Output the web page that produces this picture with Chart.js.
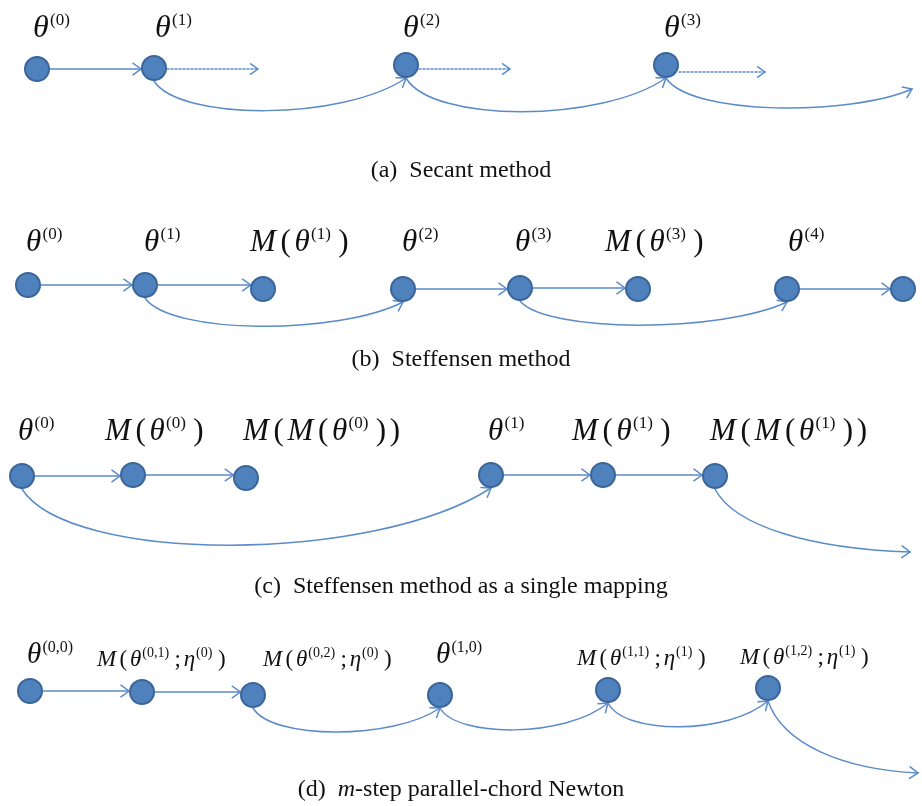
<!DOCTYPE html>
<html>
<head>
<meta charset="utf-8">
<script src="https://cdn.jsdelivr.net/npm/chart.js@4.4.1/dist/chart.umd.min.js"></script>
<style>
  html, body { margin: 0; padding: 0; background: #ffffff; }
  canvas { display: block; }
</style>
</head>
<body>
<canvas id="diagram" width="922" height="806"></canvas>
<script>
// ---- (a) Secant method ----
const secantX = [37, 154, 406, 666];
const secantY = [69, 68, 65, 65];
const secantLabels = ['θ^{(0)}', 'θ^{(1)}', 'θ^{(2)}', 'θ^{(3)}'];
const secantLabelX = [33, 155, 403, 664];
const secantLabelY = [37, 37, 37, 37];
const secantSolid = [[0, 1]];
const secantDotted = [[1, 258, 69], [2, 510, 69], [3, 765, 72]];
const secantArcs = [[1, 2, 40], [2, 3, 45], [3, [912, 89], 27]];
const secantSwoops = [];

// ---- (b) Steffensen method ----
const steffX = [28, 145, 263, 403, 520, 638, 787, 903];
const steffY = [285, 285, 289, 289, 288, 289, 289, 289];
const steffLabels = ['θ^{(0)}', 'θ^{(1)}', 'M(θ^{(1)})', 'θ^{(2)}', 'θ^{(3)}', 'M(θ^{(3)})', 'θ^{(4)}'];
const steffLabelX = [26, 144, 250, 402, 515, 605, 788];
const steffLabelY = [251, 251, 251, 251, 251, 251, 251];
const steffSolid = [[0, 1], [1, 2], [3, 4], [4, 5], [6, 7]];
const steffDotted = [];
const steffArcs = [[1, 3, 33], [4, 6, 31]];
const steffSwoops = [];

// ---- (c) Steffensen method as a single mapping ----
const singleX = [22, 133, 246, 491, 603, 715];
const singleY = [476, 475, 478, 475, 475, 476];
const singleLabels = ['θ^{(0)}', 'M(θ^{(0)})', 'M(M(θ^{(0)}))', 'θ^{(1)}', 'M(θ^{(1)})', 'M(M(θ^{(1)}))'];
const singleLabelX = [18, 105, 243, 488, 572, 710];
const singleLabelY = [440, 440, 440, 440, 440, 440];
const singleSolid = [[0, 1], [1, 2], [3, 4], [4, 5]];
const singleDotted = [];
const singleArcs = [[0, 3, 75]];
const singleSwoops = [[5, 910, 552]];

// ---- (d) m-step parallel-chord Newton ----
const chordX = [30, 142, 253, 440, 608, 768];
const chordY = [691, 692, 695, 695, 690, 688];
const chordLabels = ['θ^{(0,0)}', 'M(θ^{(0,1)};η^{(0)})', 'M(θ^{(0,2)};η^{(0)})', 'θ^{(1,0)}', 'M(θ^{(1,1)};η^{(1)})', 'M(θ^{(1,2)};η^{(1)})'];
const chordLabelX = [27, 97, 263, 436, 577, 740];
const chordLabelY = [663, 666, 666, 663, 665, 664];
const chordSolid = [[0, 1], [1, 2]];
const chordDotted = [];
const chordArcs = [[2, 3, 32], [3, 4, 30], [4, 5, 32]];
const chordSwoops = [[5, 918, 773]];

// ---- captions ----
const captions = ['(a)  Secant method', '(b)  Steffensen method',
  '(c)  Steffensen method as a single mapping', '(d)  *m*-step parallel-chord Newton'];
const captionY = [177, 366, 593, 796];

const panels = [
  { xs: secantX, ys: secantY, labels: secantLabels, lx: secantLabelX, ly: secantLabelY,
    solid: secantSolid, dotted: secantDotted, arcs: secantArcs, swoops: secantSwoops, size: 32, sup: 17 },
  { xs: steffX, ys: steffY, labels: steffLabels, lx: steffLabelX, ly: steffLabelY,
    solid: steffSolid, dotted: steffDotted, arcs: steffArcs, swoops: steffSwoops, size: 31, sup: 17 },
  { xs: singleX, ys: singleY, labels: singleLabels, lx: singleLabelX, ly: singleLabelY,
    solid: singleSolid, dotted: singleDotted, arcs: singleArcs, swoops: singleSwoops, size: 31, sup: 17 },
  { xs: chordX, ys: chordY, labels: chordLabels, lx: chordLabelX, ly: chordLabelY,
    solid: chordSolid, dotted: chordDotted, arcs: chordArcs, swoops: chordSwoops, size: 29, sup: 16,
    smallSize: 23, smallSup: 14 }
];

const NODE_FILL = '#4f81bd';
const NODE_EDGE = '#3a659b';
const LINE = '#5b8bc9';
const R = 13;            // node radius incl. border, in axis units
const SERIF = '"Liberation Serif", "DejaVu Serif", serif';

// split "M(θ^{(1)})" into runs: letters italic, superscripts raised
function parseMath(s) {
  const runs = [];
  let i = 0;
  while (i < s.length) {
    if (s[i] === '^' && s[i + 1] === '{') {
      const j = s.indexOf('}', i);
      runs.push({ t: s.slice(i + 2, j), sup: true });
      i = j + 1;
    } else {
      runs.push({ t: s[i], it: /[A-Za-zθη]/.test(s[i]) });
      i++;
    }
  }
  return runs;
}

function drawMath(ctx, str, x, y, size, sup) {
  let cx = x;
  const runs = parseMath(str);
  runs.forEach((r, k) => {
    const next = runs[k + 1];
    if (r.sup) {
      ctx.font = `${sup}px ${SERIF}`;
      ctx.fillText(r.t, cx, y - size * 0.39);
      cx += ctx.measureText(r.t).width + size * 0.24;
    } else {
      ctx.font = `${r.it ? 'italic ' : ''}${size}px ${SERIF}`;
      ctx.fillText(r.t, cx, y);
      const gap = r.it ? (next && next.sup ? size * 0.04 : size * 0.15) : size * 0.12;
      cx += ctx.measureText(r.t).width + gap;
    }
  });
}

function drawCaption(ctx, str, cx, y, size) {
  const parts = str.split('*').map((t, i) => ({ t, it: i % 2 === 1 }));
  let w = 0;
  parts.forEach(p => { ctx.font = `${p.it ? 'italic ' : ''}${size}px ${SERIF}`; p.w = ctx.measureText(p.t).width; w += p.w; });
  let x = cx - w / 2;
  parts.forEach(p => {
    ctx.font = `${p.it ? 'italic ' : ''}${size}px ${SERIF}`;
    ctx.fillText(p.t, x, y);
    x += p.w;
  });
}

function arrowHead(ctx, tip, from, len) {
  const a = Math.atan2(tip.y - from.y, tip.x - from.x);
  const spread = 0.62;
  ctx.beginPath();
  ctx.moveTo(tip.x - len * Math.cos(a - spread), tip.y - len * Math.sin(a - spread));
  ctx.lineTo(tip.x, tip.y);
  ctx.lineTo(tip.x - len * Math.cos(a + spread), tip.y - len * Math.sin(a + spread));
  ctx.stroke();
}

const edgePlugin = {
  id: 'edges',
  beforeDatasetsDraw(chart) {
    const { ctx, scales: { x: sx, y: sy } } = chart;
    const P = (x, y) => ({ x: sx.getPixelForValue(x), y: sy.getPixelForValue(y) });
    ctx.save();
    ctx.strokeStyle = LINE;
    ctx.lineWidth = 1.5;
    ctx.lineCap = 'round';
    panels.forEach(p => {
      // straight solid arrows, horizontal at the source height
      p.solid.forEach(([a, b]) => {
        const y = p.ys[a];
        const dy = y - p.ys[b];
        const tipX = p.xs[b] - Math.sqrt(Math.max(R * R - dy * dy, 0));
        const s = P(p.xs[a] + R, y), t = P(tipX, y);
        ctx.setLineDash([]);
        ctx.beginPath(); ctx.moveTo(s.x, s.y); ctx.lineTo(t.x, t.y); ctx.stroke();
        arrowHead(ctx, t, s, 10);
      });
      // dotted arrows leaving a node
      p.dotted.forEach(([a, ex, ey]) => {
        const s = P(p.xs[a] + R, ey), t = P(ex, ey);
        ctx.setLineDash([2, 2]);
        ctx.beginPath(); ctx.moveTo(s.x, s.y); ctx.lineTo(t.x, t.y); ctx.stroke();
        ctx.setLineDash([]);
        arrowHead(ctx, t, s, 9);
      });
      ctx.setLineDash([]);
      // curved arcs under the nodes
      p.arcs.forEach(([a, b, k]) => {
        const x0 = p.xs[a], y0 = p.ys[a] + R;
        const x3 = Array.isArray(b) ? b[0] : p.xs[b];
        const y3 = Array.isArray(b) ? b[1] : p.ys[b] + R;
        const dx = x3 - x0, base = Math.max(y0, y3);
        const c1 = P(x0 + 0.1 * dx, base + k), c2 = P(x3 - 0.25 * dx, base + k);
        const s = P(x0, y0), t = P(x3, y3);
        ctx.beginPath(); ctx.moveTo(s.x, s.y);
        ctx.bezierCurveTo(c1.x, c1.y, c2.x, c2.y, t.x, t.y); ctx.stroke();
        arrowHead(ctx, t, c2, 10);
      });
      // sweeping exits to the right
      p.swoops.forEach(([a, ex, ey]) => {
        const x0 = p.xs[a], y0 = p.ys[a] + R;
        const dx = ex - x0, dy = ey - y0;
        const c1 = P(x0 + 0.1 * dx, y0 + 0.6 * dy), c2 = P(x0 + 0.5 * dx, ey - 0.05 * dy);
        const s = P(x0, y0), t = P(ex, ey);
        ctx.beginPath(); ctx.moveTo(s.x, s.y);
        ctx.bezierCurveTo(c1.x, c1.y, c2.x, c2.y, t.x, t.y); ctx.stroke();
        arrowHead(ctx, t, c2, 10);
      });
    });
    ctx.restore();
  },
  afterDatasetsDraw(chart) {
    const { ctx, scales: { x: sx, y: sy } } = chart;
    ctx.save();
    ctx.fillStyle = '#111111';
    ctx.textBaseline = 'alphabetic';
    panels.forEach(p => {
      p.labels.forEach((lab, i) => {
        const small = p.smallSize && lab[0] === 'M';
        drawMath(ctx, lab, sx.getPixelForValue(p.lx[i]), sy.getPixelForValue(p.ly[i]),
          small ? p.smallSize : p.size, small ? p.smallSup : p.sup);
      });
    });
    captions.forEach((c, i) => drawCaption(ctx, c, sx.getPixelForValue(461), sy.getPixelForValue(captionY[i]), 24));
    ctx.restore();
  }
};

new Chart(document.getElementById('diagram'), {
  type: 'scatter',
  data: {
    datasets: panels.map(p => ({
      data: p.xs.map((x, i) => ({ x, y: p.ys[i] })),
      pointRadius: 12,
      pointHoverRadius: 12,
      pointBackgroundColor: NODE_FILL,
      pointBorderColor: NODE_EDGE,
      pointBorderWidth: 2,
      showLine: false
    }))
  },
  options: {
    responsive: false,
    animation: false,
    events: [],
    layout: { padding: 0, autoPadding: false },
    scales: {
      x: { type: 'linear', min: 0, max: 922, display: false },
      y: { type: 'linear', min: 0, max: 806, reverse: true, display: false }
    },
    plugins: { legend: { display: false }, tooltip: { enabled: false } }
  },
  plugins: [edgePlugin]
});
</script>
</body>
</html>
